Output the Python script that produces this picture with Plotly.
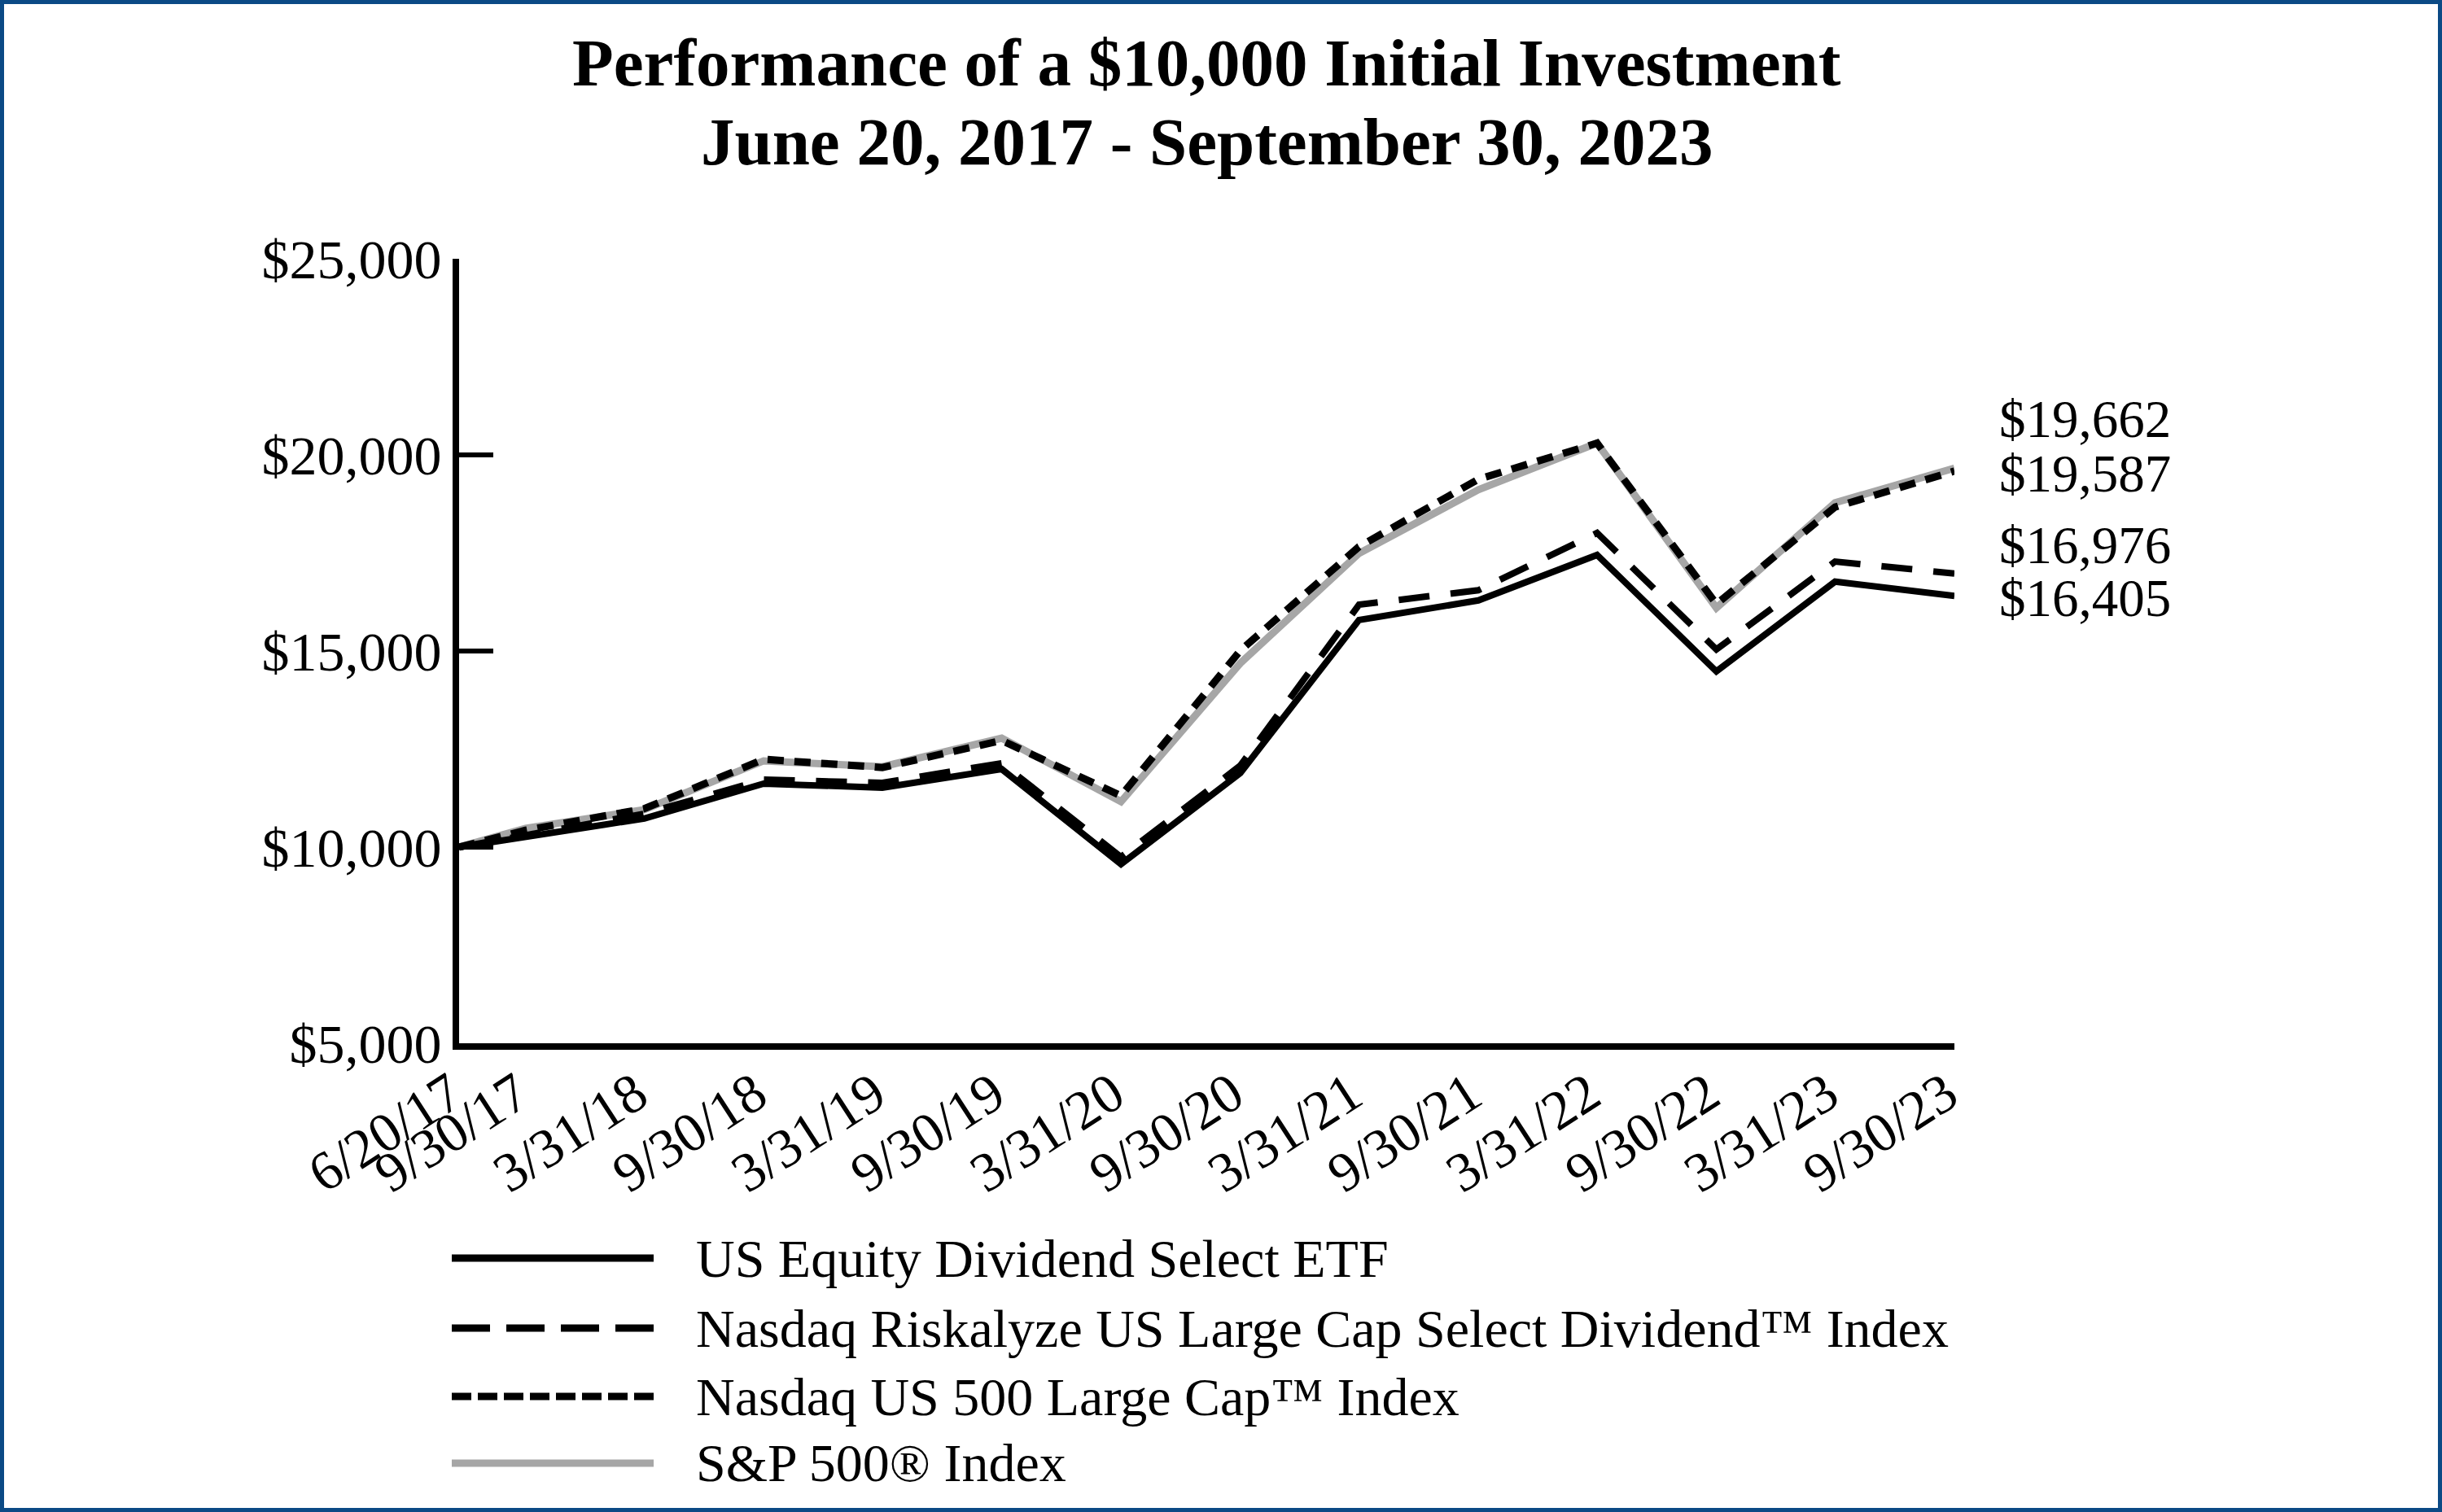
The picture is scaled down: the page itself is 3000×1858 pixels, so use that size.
import plotly.graph_objects as go

# ---------------- data ----------------
dates = ["2017-06-20", "2017-09-30", "2018-03-31", "2018-09-30", "2019-03-31",
         "2019-09-30", "2020-03-31", "2020-09-30", "2021-03-31", "2021-09-30",
         "2022-03-31", "2022-09-30", "2023-03-31", "2023-09-30"]
tick_labels = ["6/20/17", "9/30/17", "3/31/18", "9/30/18", "3/31/19", "9/30/19",
               "3/31/20", "9/30/20", "3/31/21", "9/30/21", "3/31/22", "9/30/22",
               "3/31/23", "9/30/23"]

etf = [10000, 10270, 10730, 11620, 11515, 11990, 9565, 11890, 15790, 16290,
       17450, 14480, 16770, 16405]
riskalyze = [10000, 10320, 10850, 11720, 11640, 12140, 9750, 12080, 16180, 16550,
             18010, 15040, 17280, 16976]
us500 = [10000, 10430, 10980, 12240, 12030, 12720, 11310, 15010, 17660, 19380,
         20300, 16200, 18670, 19587]
sp500 = [10000, 10480, 10955, 12200, 12050, 12780, 11160, 14690, 17490, 19110,
         20300, 16100, 18780, 19662]

series_names = ["US Equity Dividend Select ETF",
                "Nasdaq Riskalyze US Large Cap Select Dividend\u2122 Index",
                "Nasdaq US 500 Large Cap\u2122 Index",
                "S&P 500\u00ae Index"]

y_ticks = [5000, 10000, 15000, 20000, 25000]
y_tick_text = ["$5,000", "$10,000", "$15,000", "$20,000", "$25,000"]

# ---------------- geometry ----------------
W, H = 3000, 1858
L, R, T, B = 564, 599, 318, 576
PW, PH = W - L - R, H - T - B
FONT = "Liberation Serif, Times New Roman, serif"


def px_x(p):
    return (p - L) / PW


def px_y(p):
    return (H - B - p) / PH


styles = [
    dict(color="black", width=8, dash="solid"),
    dict(color="black", width=8, dash="38px,26px"),
    dict(color="black", width=9, dash="20px,13px"),
    dict(color="#a6a6a6", width=9, dash="solid"),
]
values = [etf, riskalyze, us500, sp500]

fig = go.Figure()
for idx in [3, 2, 0, 1]:
    fig.add_trace(go.Scatter(x=dates, y=values[idx], mode="lines",
                             name=series_names[idx], line=styles[idx],
                             showlegend=False))

# ---------------- end labels ----------------
end_vals = [sp500[-1], us500[-1], riskalyze[-1], etf[-1]]
end_px = [515, 582, 670, 735]
annotations = []
for v, py in zip(end_vals, end_px):
    annotations.append(dict(x=px_x(2455), y=px_y(py), xref="paper", yref="paper",
                            text=f"${v:,}", showarrow=False, xanchor="left",
                            yanchor="middle", borderpad=0,
                            font=dict(family=FONT, size=65, color="black")))

# ---------------- title ----------------
annotations.append(dict(x=px_x(1482), y=px_y(77), xref="paper", yref="paper",
                        text="<b>Performance of a $10,000 Initial Investment</b>",
                        showarrow=False, xanchor="center", yanchor="middle",
                        font=dict(family=FONT, size=83, color="black")))
annotations.append(dict(x=px_x(1482), y=px_y(174), xref="paper", yref="paper",
                        text="<b>June 20, 2017 - September 30, 2023</b>",
                        showarrow=False, xanchor="center", yanchor="middle",
                        font=dict(family=FONT, size=83, color="black")))

# ---------------- manual legend ----------------
legend_rows = [1546, 1632, 1716, 1798]
legend_styles = [
    dict(color="black", width=9, dash="solid"),
    dict(color="black", width=9, dash="47px,20px"),
    dict(color="black", width=9, dash="24px,8px"),
    dict(color="#a6a6a6", width=9, dash="solid"),
]
shapes = []
for name, st, py in zip(series_names, legend_styles, legend_rows):
    shapes.append(dict(type="line", xref="paper", yref="paper",
                       x0=px_x(555), x1=px_x(803), y0=px_y(py), y1=px_y(py),
                       line=st))
    annotations.append(dict(x=px_x(853), y=px_y(py), xref="paper", yref="paper",
                            text=name, showarrow=False, xanchor="left",
                            yanchor="middle",
                            font=dict(family=FONT, size=66, color="black")))

# ---------------- border ----------------
shapes.append(dict(type="rect", xref="paper", yref="paper",
                   x0=px_x(2.5), x1=px_x(W - 2.5), y0=px_y(H - 2.5), y1=px_y(2.5),
                   line=dict(color="#0b4a85", width=5), fillcolor="rgba(0,0,0,0)",
                   layer="above"))

fig.update_layout(
    width=W, height=H,
    margin=dict(l=L, r=R, t=T, b=B, pad=0),
    paper_bgcolor="white", plot_bgcolor="white",
    font=dict(family=FONT, color="black"),
    annotations=annotations, shapes=shapes,
    xaxis=dict(type="date", range=[dates[0], dates[-1]], tickvals=dates,
               ticktext=tick_labels, tickangle=-33, showline=True, linewidth=8,
               linecolor="black", ticks="", showgrid=False, zeroline=False,
               ticklabelstandoff=-12, ticklabelshift=-10,
               tickfont=dict(family=FONT, size=68, color="black")),
    yaxis=dict(range=[5000, 25000], tickvals=y_ticks, ticktext=y_tick_text,
               ticks="inside", ticklen=42, tickwidth=6, tickcolor="black",
               showline=True, linewidth=8, linecolor="black", showgrid=False,
               zeroline=False,
               tickfont=dict(family=FONT, size=68, color="black")),
)

fig.write_html("out.html",
               config={"displayModeBar": False},
               post_script="document.body.style.margin='0';"
                           "document.body.style.padding='0';")
